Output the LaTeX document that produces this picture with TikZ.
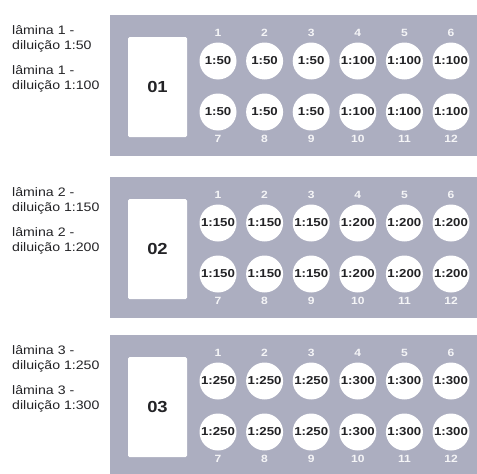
\documentclass[tikz,border=0pt]{standalone}
\usepackage{fontspec}
\setmainfont{Liberation Sans}[FakeStretch=1.15]
\usepackage{xcolor}
\usetikzlibrary{calc}

\definecolor{panelgray}{RGB}{172,174,192}
\definecolor{inkgray}{RGB}{35,35,38}

\begin{document}
\begin{tikzpicture}[x=1pt,y=-1pt,
  panel/.style={fill=panelgray},
  slidebox/.style={fill=white,rounded corners=1.5pt,minimum width=59pt,minimum height=100pt,
    inner sep=0pt,font=\fontsize{16}{16}\selectfont\bfseries,text=inkgray},
  well/.style={circle,fill=white,minimum size=37pt,inner sep=0pt,
    font=\fontsize{11.5}{12}\selectfont\bfseries,text=inkgray},
  wellnum/.style={inner sep=0pt,font=\fontsize{10.5}{10}\selectfont\bfseries,text=white!88!panelgray},
  lab/.style={anchor=north west,inner sep=0pt,align=left,
    font=\fontsize{12.3}{15}\selectfont,text=inkgray}]
\useasboundingbox (0,0) rectangle (477,474);
% #1 top of the panel, #2 slide, #3 first dilution, #4 second dilution
\newcommand{\lamrow}[5]{
  \fill[panel] (110,#1) rectangle (477,#1+141);
  \node[lab] (l#2a) at (12,#1+10) {lâmina #5 -\\diluição #3};
  \node[lab] (l#2b) at (12,#1+50) {lâmina #5 -\\diluição #4};
  \node[slidebox] (s#2) at (157.5,#1+72) {#2};
  \foreach \k in {1,...,6} {
    \pgfmathtruncatemacro{\kb}{\k+6}
    \node[well] (w#2-\k) at ({218+(\k-1)*46.6},#1+46) {\ifnum\k<4 #3\else #4\fi};
    \node[well] (w#2-\kb) at ({218+(\k-1)*46.6},#1+97) {\ifnum\k<4 #3\else #4\fi};
    \node[wellnum] (n#2-\k) at ({218+(\k-1)*46.6},#1+18) {\k};
    \node[wellnum] (n#2-\kb) at ({218+(\k-1)*46.6},#1+124) {\kb};
  }
}
\lamrow{15}{01}{1:50}{1:100}{1}
\lamrow{177}{02}{1:150}{1:200}{2}
\lamrow{335}{03}{1:250}{1:300}{3}
\end{tikzpicture}
\end{document}
